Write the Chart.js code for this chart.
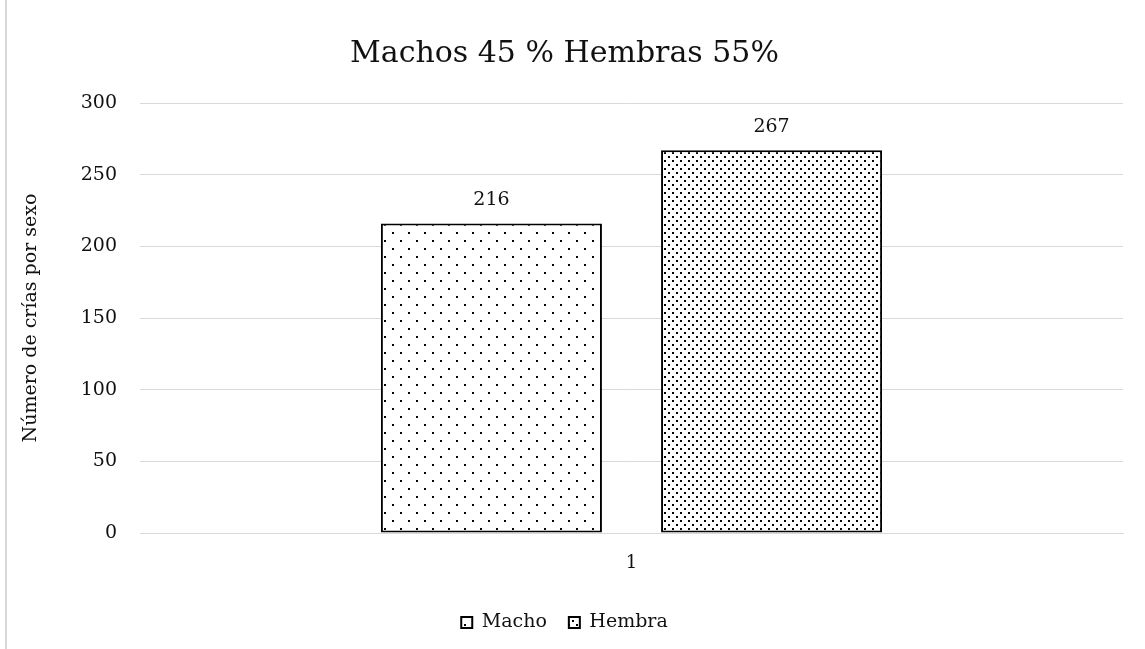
<!DOCTYPE html>
<html>
<head>
<meta charset="utf-8">
<script src="https://cdn.jsdelivr.net/npm/chart.js@4.4.0/dist/chart.umd.min.js"></script>
<style>
  html, body { margin: 0; padding: 0; background: #fff; }
  #wrap { position: relative; width: 1145px; height: 649px; }
  #wrap:before { content: ""; position: absolute; left: 5px; top: 0; bottom: 0; width: 2px; background: #d9d9d9; }
</style>
</head>
<body>
<div id="wrap"><canvas id="chart" width="1145" height="649"></canvas></div>
<script>
const categories = ["1"];
const seriesNames = ["Macho", "Hembra"];
const machoValues = [216];
const hembraValues = [267];
const yTicks = [0, 50, 100, 150, 200, 250, 300];

const serif = "'DejaVu Serif', 'Liberation Serif', serif";

function dotPattern(size, step) {
    const c = document.createElement("canvas");
    c.width = size;
    c.height = size;
    const g = c.getContext("2d");
    g.fillStyle = "#fff";
    g.fillRect(0, 0, size, size);
    g.fillStyle = "#000";
    g.fillRect(0, 0, 2, 2);
    g.fillRect(step, step, 2, 2);
    return g.createPattern(c, "repeat");
}

const ctx = document.getElementById("chart").getContext("2d");
const machoFill = dotPattern(16, 8);
const hembraFill = dotPattern(8, 4);

// value labels above the bars
const barLabels = {
    id: "barLabels",
    afterDatasetsDraw(chart) {
        const c = chart.ctx;
        c.save();
        c.font = "19px " + serif;
        c.fillStyle = "#111";
        c.textAlign = "center";
        c.textBaseline = "bottom";
        chart.data.datasets.forEach((ds, i) => {
            chart.getDatasetMeta(i).data.forEach((bar, j) => {
                c.fillText(ds.data[j], bar.x, bar.y - 14);
            });
        });
        c.restore();
    },
};

new Chart(ctx, {
    type: "bar",
    data: {
        labels: categories,
        datasets: [
            {
                label: seriesNames[0],
                data: machoValues,
                backgroundColor: machoFill,
                borderColor: "#000",
                borderWidth: 2,
                borderSkipped: false,
            },
            {
                label: seriesNames[1],
                data: hembraValues,
                backgroundColor: hembraFill,
                borderColor: "#000",
                borderWidth: 2,
                borderSkipped: false,
            },
        ],
    },
    options: {
        responsive: false,
        animation: false,
        events: [],
        layout: { padding: { left: 6, right: 22, top: 10, bottom: 7 } },
        datasets: { bar: { barPercentage: 0.789, categoryPercentage: 0.57 } },
        plugins: {
            title: {
                display: true,
                text: "Machos 45 % Hembras 55%",
                color: "#111",
                font: { family: serif, size: 30, weight: "normal" },
                padding: { top: 26, bottom: 31 },
            },
            legend: {
                position: "bottom",
                labels: {
                    color: "#111",
                    font: { family: serif, size: 19 },
                    boxWidth: 11,
                    boxHeight: 11,
                    padding: 22,
                },
            },
            tooltip: { enabled: false },
        },
        scales: {
            x: {
                grid: { display: false, drawTicks: false },
                border: { display: true, color: "#d9d9d9", width: 1 },
                ticks: { color: "#111", font: { family: serif, size: 18 }, padding: 20 },
                afterFit(scale) { scale.height = 58; },
            },
            y: {
                min: 0,
                max: 300,
                afterBuildTicks(scale) { scale.ticks = yTicks.map(v => ({ value: v })); },
                grid: { color: "#d9d9d9", lineWidth: 1, drawTicks: false },
                border: { display: false },
                ticks: { color: "#111", font: { family: serif, size: 19 }, padding: 23 },
                title: {
                    display: true,
                    text: "Número de crías por sexo",
                    color: "#111",
                    font: { family: serif, size: 19 },
                    padding: { top: 14, bottom: 4 },
                },
                afterFit(scale) { scale.width = 134; },
            },
        },
    },
    plugins: [barLabels],
});
</script>
</body>
</html>
